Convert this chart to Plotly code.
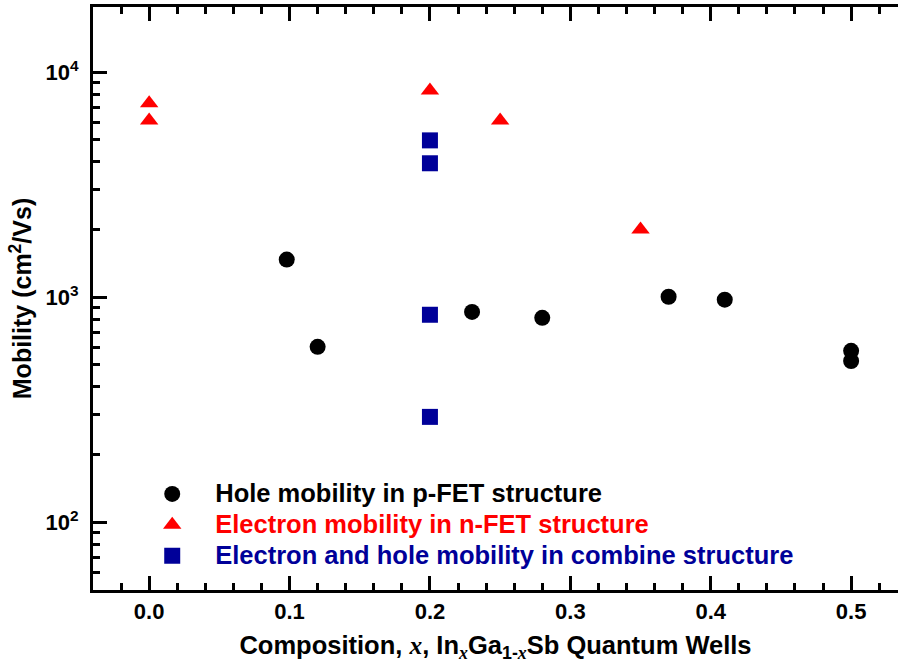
import plotly.graph_objects as go

# Indium composition x and measured mobilities (cm^2/Vs)
hole_x = [0.098, 0.12, 0.23, 0.28, 0.37, 0.41, 0.50, 0.50]
hole_mu = [1470, 602, 861, 810, 1005, 976, 578, 521]

nfet_x = [0.0, 0.0, 0.20, 0.25, 0.35]
nfet_mu = [7290, 6110, 8300, 6110, 2000]

comb_x = [0.20, 0.20, 0.20, 0.20]
comb_mu = [4980, 3940, 836, 294]

x_ticks = [0.0, 0.1, 0.2, 0.3, 0.4, 0.5]
x_ticklabels = ["0.0", "0.1", "0.2", "0.3", "0.4", "0.5"]
y_ticks = [100, 1000, 10000]
y_ticklabels = ["10<sup>2</sup>", "10<sup>3</sup>", "10<sup>4</sup>"]

FONT = "Liberation Sans, Arial, sans-serif"
RED = "#FF0000"
NAVY = "#000099"


def legend_label(text, color):
    return f"<span style='color:{color};font-size:25.5px'>{text}</span>"


fig = go.Figure()
fig.add_trace(go.Scatter(
    x=hole_x, y=hole_mu, mode="markers",
    marker=dict(symbol="circle", size=16, color="black"),
    name=legend_label("Hole mobility in p-FET structure", "black"),
))
fig.add_trace(go.Scatter(
    x=nfet_x, y=nfet_mu, mode="markers",
    marker=dict(symbol="triangle-up", size=16, color=RED),
    name=legend_label("Electron mobility in n-FET structure", RED),
))
fig.add_trace(go.Scatter(
    x=comb_x, y=comb_mu, mode="markers",
    marker=dict(symbol="square", size=16, color=NAVY),
    name=legend_label("Electron and hole mobility in combine structure", NAVY),
))

axis_common = dict(
    showline=True, linecolor="black", linewidth=3,
    ticks="inside", tickcolor="black", tickwidth=3, ticklen=14,
    showgrid=False, zeroline=False,
    tickfont=dict(family=FONT, size=22, color="black", weight="bold"),
)

ITAL_X = "<span style=\"font-family:'Liberation Serif'\"><i>x</i></span>"

fig.update_xaxes(
    **axis_common,
    range=[-0.04, 0.5334],
    tickvals=x_ticks, ticktext=x_ticklabels,
    mirror="allticks",
    minor=dict(ticks="inside", dtick=0.02, ticklen=7, tickwidth=3, tickcolor="black"),
    title=dict(
        text=(f"Composition, {ITAL_X}, In<sub>{ITAL_X}</sub>Ga<sub>1-{ITAL_X}</sub>"
              "Sb Quantum Wells"),
        font=dict(family=FONT, size=25.5, color="black", weight="bold"),
        standoff=13,
    ),
)
fig.update_yaxes(
    **axis_common,
    type="log",
    range=[1.69897, 4.29],
    tickvals=y_ticks, ticktext=y_ticklabels,
    ticklabelstandoff=7,
    mirror=False,
    minor=dict(ticks="inside", dtick="D1", ticklen=7, tickwidth=3, tickcolor="black"),
    title=dict(
        text="Mobility (cm<sup>2</sup>/Vs)",
        font=dict(family=FONT, size=25, color="black", weight="bold"),
        standoff=7,
    ),
)

fig.update_layout(
    width=898, height=664,
    margin=dict(l=93, r=0, t=7, b=74),
    paper_bgcolor="white", plot_bgcolor="white",
    showlegend=True,
    legend=dict(
        x=0.045, y=0.2, xanchor="left", yanchor="top",
        bgcolor="rgba(0,0,0,0)",
        font=dict(family=FONT, size=21.5, weight="bold"),
        itemwidth=76, tracegroupgap=0,
    ),
)

fig.write_html("out.html")
